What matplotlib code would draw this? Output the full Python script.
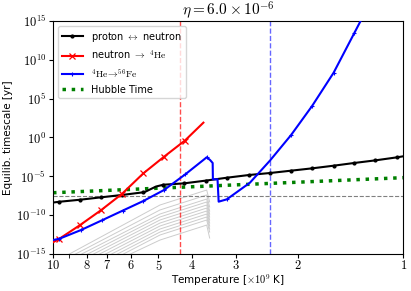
import matplotlib
matplotlib.use("Agg")
import matplotlib.pyplot as plt
import numpy as np
from matplotlib.ticker import FixedLocator, NullFormatter

plt.rcParams['mathtext.fontset'] = 'cm'

# temperatures in 10^9 K, timescales stored as log10(yr)
T_pn = [10.0, 9.59, 8.37, 7.29, 6.36, 5.54, 5.45, 5.08, 4.84, 4.22, 3.65, 3.18, 2.76,
        2.40, 2.09, 1.82, 1.58, 1.38, 1.20, 1.04, 1.0]
exp_pn = [-8.37, -8.27, -8.01, -7.70, -7.40, -7.06, -6.98, -6.31, -6.08, -5.90, -5.54, -5.17,
          -4.83, -4.57, -4.27, -3.97, -3.63, -3.28, -2.94, -2.55, -2.42]
mk_pn = [1, 2, 3, 4, 5, 8, 9, 10, 11, 12, 13, 14, 15, 16, 17, 18, 19]

T_nhe = [10.0, 9.59, 8.37, 7.28, 6.36, 5.52, 4.83, 4.20, 3.72]
exp_nhe = [-13.49, -13.03, -11.27, -9.33, -7.27, -4.61, -2.51, -0.39, 1.91]
mk_nhe = [1, 2, 3, 4, 5, 6, 7]

T_hefe = [10.0, 9.59, 8.32, 7.25, 6.33, 5.52, 4.82, 4.19, 3.64, 3.56, 3.50, 3.495, 3.39,
          3.365, 3.19, 2.74, 2.40, 2.09, 1.82, 1.58, 1.38, 1.30]
exp_hefe = [-13.2, -13.03, -11.91, -10.66, -9.42, -8.17, -6.76, -4.74, -2.55, -2.90, -3.28,
            -5.38, -5.38, -8.26, -7.96, -5.82, -2.96, 0.32, 4.06, 8.34, 13.42, 15.66]
mk_hefe = [1, 2, 3, 4, 5, 6, 7, 8, 14, 17, 18, 19, 20]

T_hub = [10.0, 1.0]
exp_hub = [-7.11, -5.17]

one_second = 3.17e-8
T_n_freeze = 4.34
T_fe_freeze = 2.40

# faint grey curves (other species)
gray_entry_T = [9.42, 9.06, 8.71, 8.37, 8.05, 7.74, 7.44, 7.15, 6.88, 6.61, 6.35]
gray_T_rest = [4.95, 3.64, 3.57]
gray_exp = [
    [-15.5, -8.69, -6.76, -8.30],
    [-15.5, -9.33, -7.40, -8.95],
    [-15.5, -9.85, -7.92, -9.46],
    [-15.5, -10.23, -8.30, -9.85],
    [-15.5, -10.62, -8.69, -10.23],
    [-15.5, -11.01, -9.08, -10.62],
    [-15.5, -11.39, -9.46, -11.01],
    [-15.5, -11.78, -9.85, -11.39],
    [-15.5, -12.17, -10.23, -11.78],
    [-15.5, -12.55, -10.62, -12.17],
    [-15.5, -13.20, -11.27, -12.94],
]

fig = plt.figure(figsize=(4.11, 2.91), dpi=100)
ax = fig.add_axes([0.129, 0.127, 0.852, 0.801])

for t0, ex in zip(gray_entry_T, gray_exp):
    ax.plot([t0] + gray_T_rest, 10.0 ** np.array(ex), color='0.8', lw=0.7, zorder=1)

ax.plot(T_pn, 10.0 ** np.array(exp_pn), color='black', lw=1.5, marker='.', ms=4,
        markevery=mk_pn, label=r'proton $\leftrightarrow$ neutron', zorder=3)
ax.plot(T_nhe, 10.0 ** np.array(exp_nhe), color='red', lw=1.5, marker='x', ms=4, mew=0.9,
        markevery=mk_nhe, label=r'neutron $\rightarrow$ $^4\mathrm{He}$', zorder=3)
ax.plot(T_hefe, 10.0 ** np.array(exp_hefe), color='blue', lw=1.5, marker='+', ms=3, mew=0.8,
        markevery=mk_hefe, label=r'$^4\mathrm{He}\!\rightarrow\!^{56}\mathrm{Fe}$', zorder=3)
ax.plot(T_hub, 10.0 ** np.array(exp_hub), color='green', lw=2.5, ls=':',
        label='Hubble Time', zorder=2)

ax.axhline(one_second, color='gray', lw=0.8, ls='--', zorder=1)
ax.axvline(T_n_freeze, color='red', lw=1.0, ls='--', alpha=0.7, zorder=2)
ax.axvline(T_fe_freeze, color='blue', lw=1.0, ls='--', alpha=0.6, zorder=2)

ax.set_xscale('log')
ax.set_yscale('log')
ax.set_xlim(10, 1)
ax.set_ylim(1e-15, 1e15)

xt = [10, 8, 7, 6, 5, 4, 3, 2, 1]
ax.xaxis.set_major_locator(FixedLocator(xt))
ax.xaxis.set_minor_locator(FixedLocator([9]))
ax.xaxis.set_minor_formatter(NullFormatter())
ax.set_xticklabels(['$%d$' % t for t in xt])

yt = [-15, -10, -5, 0, 5, 10, 15]
ax.yaxis.set_major_locator(FixedLocator([10.0 ** e for e in yt]))
ax.yaxis.set_minor_locator(FixedLocator([]))
ax.set_yticklabels(['$10^{%d}$' % e for e in yt])
ax.tick_params(which='both', labelsize=9, length=3, pad=2)
ax.tick_params(axis='x', which='both', pad=0.5)

ax.set_xlabel(r'Temperature [$\times 10^9$ K]', fontsize=7.5, labelpad=0)
ax.set_ylabel('Equilib. timescale [yr]', fontsize=7.5, labelpad=2)
ax.set_title(r'$\eta = 6.0 \times 10^{-6}$', fontsize=11, pad=3)
ax.legend(loc='upper left', fontsize=7, handlelength=2.2)

fig.savefig('out.png', dpi=100)
